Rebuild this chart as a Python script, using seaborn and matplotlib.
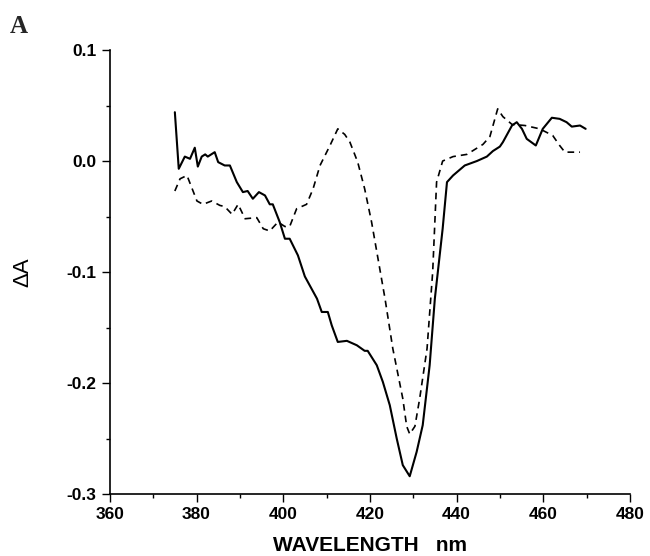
import matplotlib
matplotlib.use("Agg")
import matplotlib.pyplot as plt
from matplotlib.ticker import MultipleLocator
import seaborn as sns
import pandas as pd

# solid trace
solid_nm = [375.0, 375.9, 377.3, 378.5, 379.6, 380.3, 381.2, 382.0, 382.6, 384.2,
            385.0, 386.5, 387.7, 389.3, 390.7, 391.8, 393.0, 394.4, 395.8, 396.9,
            397.6, 399.2, 400.4, 401.5, 403.4, 405.0, 407.8, 408.9, 410.3, 411.2,
            412.6, 414.7, 417.0, 418.8, 419.5, 421.6, 423.0, 424.6, 426.2, 427.6,
            429.2, 430.8, 432.2, 433.8, 435.0, 436.8, 437.8, 439.2, 441.9, 444.7,
            447.0, 448.4, 450.0, 450.7, 452.8, 453.9, 455.1, 456.2, 458.3, 459.9,
            462.0, 463.8, 465.4, 466.6, 468.5, 469.8]
solid_dA = [0.044, -0.007, 0.004, 0.002, 0.012, -0.005, 0.004, 0.006, 0.004, 0.008,
            -0.001, -0.004, -0.004, -0.019, -0.028, -0.027, -0.034, -0.028, -0.031, -0.039,
            -0.039, -0.055, -0.070, -0.070, -0.085, -0.104, -0.124, -0.136, -0.136, -0.148,
            -0.163, -0.162, -0.166, -0.171, -0.171, -0.184, -0.199, -0.220, -0.250, -0.274,
            -0.284, -0.262, -0.238, -0.184, -0.124, -0.061, -0.019, -0.013, -0.004, 0.000,
            0.004, 0.009, 0.013, 0.017, 0.032, 0.035, 0.029, 0.020, 0.014, 0.029,
            0.039, 0.038, 0.035, 0.031, 0.032, 0.029]

# dashed trace
dash_nm = [375.0, 376.2, 377.8, 380.1, 381.5, 383.5, 385.4, 386.5, 388.2, 389.6,
           391.2, 393.9, 395.4, 396.9, 398.8, 400.4, 401.5, 403.1, 405.4, 406.9,
           408.5, 410.8, 412.6, 414.2, 415.4, 417.2, 418.8, 420.4, 423.5, 425.3,
           427.6, 428.5, 429.2, 430.4, 431.5, 433.2, 434.5, 435.4, 436.8, 439.2,
           442.4, 446.1, 447.7, 449.5, 450.7, 452.8, 455.8, 459.2, 462.2, 463.8,
           465.0, 468.5]
dash_dA = [-0.027, -0.016, -0.013, -0.036, -0.039, -0.036, -0.040, -0.041, -0.048, -0.039,
           -0.052, -0.051, -0.061, -0.063, -0.055, -0.059, -0.059, -0.043, -0.039, -0.025,
           -0.004, 0.014, 0.029, 0.024, 0.017, -0.001, -0.025, -0.055, -0.124, -0.169,
           -0.214, -0.239, -0.246, -0.239, -0.214, -0.169, -0.100, -0.019, 0.000, 0.004,
           0.006, 0.015, 0.022, 0.047, 0.040, 0.033, 0.032, 0.029, 0.023, 0.014,
           0.008, 0.008]

x_ticks = [360, 380, 400, 420, 440, 460, 480]
y_ticks = [-0.3, -0.2, -0.1, 0.0, 0.1]
y_labels = ['-0.3', '-0.2', '-0.1', '0.0', '0.1']

sns.set_style("ticks")
plt.rcParams['font.family'] = ['Liberation Sans', 'DejaVu Sans']

fig = plt.figure(figsize=(6.5, 5.56), dpi=100)
ax = fig.add_axes([0.169, 0.1115, 0.8, 0.7985])

df_solid = pd.DataFrame({'nm': solid_nm, 'dA': solid_dA})
df_dash = pd.DataFrame({'nm': dash_nm, 'dA': dash_dA})
sns.lineplot(data=df_solid, x='nm', y='dA', ax=ax, color='black', lw=1.5, sort=False)
sns.lineplot(data=df_dash, x='nm', y='dA', ax=ax, color='black', lw=1.2,
             sort=False, dashes=False, linestyle=(0, (4, 3)))

ax.set_xlim(360, 480)
ax.set_ylim(-0.3, 0.1)
ax.set_xticks(x_ticks)
ax.set_yticks(y_ticks)
ax.set_xticklabels([str(v) for v in x_ticks])
ax.set_yticklabels(y_labels)
ax.xaxis.set_minor_locator(MultipleLocator(10))
ax.yaxis.set_minor_locator(MultipleLocator(0.05))
ax.tick_params(which='major', direction='out', length=6, width=1, labelsize=12.5,
               color='black', labelcolor='black')
ax.tick_params(which='minor', direction='out', length=3, width=1, color='black')
for lab in ax.get_xticklabels() + ax.get_yticklabels():
    lab.set_fontweight('bold')
for side in ['top', 'right']:
    ax.spines[side].set_visible(False)
for side in ['left', 'bottom']:
    ax.spines[side].set_color('black')
    ax.spines[side].set_linewidth(1.2)

ax.set_xlabel('WAVELENGTH   nm', fontsize=15, fontweight='bold', labelpad=10, color='black')
ax.set_ylabel('ΔA', fontsize=16, labelpad=24, color='black')

fig.text(0.015, 0.94, 'A', fontsize=18, fontweight='bold',
         family=['Liberation Serif', 'DejaVu Serif'])

fig.savefig('out.png', dpi=100)
